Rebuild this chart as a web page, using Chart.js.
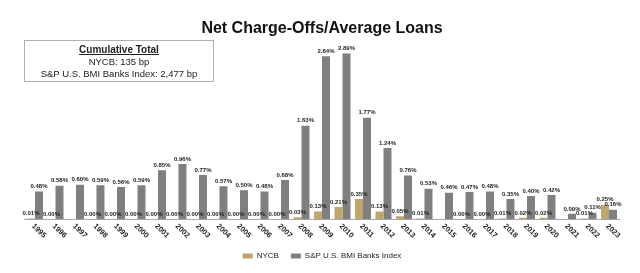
<!DOCTYPE html>
<html>
<head>
<meta charset="utf-8">
<script src="https://cdn.jsdelivr.net/npm/chart.js@4.4.1/dist/chart.umd.min.js"></script>
<style>
  html, body { margin: 0; padding: 0; background: #fff; }
  #wrap { position: relative; width: 640px; height: 273px; }
  #box {
    position: absolute; left: 24px; top: 40px; width: 190px; height: 42px; box-sizing: border-box;
    border: 1px solid #b0b0b0; font-family: "Liberation Sans", Arial, sans-serif;
    font-size: 9.5px; color: #222; text-align: center; line-height: 12px; padding-top: 3px;
  }
  #box b { text-decoration: underline; font-size: 10px; }
</style>
</head>
<body>
<div id="wrap">
  <canvas id="c" width="640" height="273"></canvas>
  <div id="box"><b>Cumulative Total</b><br>NYCB: 135 bp<br>S&amp;P U.S. BMI Banks Index: 2,477 bp</div>
</div>
<script>
const years = ['1995','1996','1997','1998','1999','2000','2001','2002','2003','2004','2005','2006','2007','2008','2009','2010','2011','2012','2013','2014','2015','2016','2017','2018','2019','2020','2021','2022','2023'];
const nycb = [0.01,0.00,null,0.00,0.00,0.00,0.00,0.00,0.00,0.00,0.00,0.00,0.00,0.03,0.13,0.21,0.35,0.13,0.05,0.01,null,0.00,0.00,0.01,0.02,0.02,null,0.01,0.25];
const spIndex = [0.48,0.58,0.60,0.59,0.56,0.59,0.85,0.96,0.77,0.57,0.50,0.48,0.68,1.63,2.84,2.89,1.77,1.24,0.76,0.53,0.46,0.47,0.48,0.35,0.40,0.42,0.09,0.11,0.16];
const seriesNames = ['NYCB', 'S&P U.S. BMI Banks Index'];
const titleText = 'Net Charge-Offs/Average Loans';

const FONT = '"Liberation Sans", Arial, sans-serif';

const labelPlugin = {
  id: 'valueLabels',
  afterDatasetsDraw(chart) {
    const ctx = chart.ctx;
    ctx.save();
    ctx.font = 'bold 6px ' + FONT;
    ctx.fillStyle = '#222';
    ctx.textAlign = 'center';
    ctx.textBaseline = 'bottom';
    chart.data.datasets.forEach((ds, di) => {
      const meta = chart.getDatasetMeta(di);
      meta.data.forEach((el, i) => {
        const v = ds.data[i];
        if (v === null || v === undefined) return;
        ctx.fillText(v.toFixed(2) + '%', el.x, el.y - 2);
      });
    });
    ctx.restore();
  },
  afterDraw(chart) {
    const ctx = chart.ctx;
    const xs = chart.scales.x;
    ctx.save();
    ctx.font = 'bold 7.5px ' + FONT;
    ctx.fillStyle = '#222';
    ctx.textAlign = 'left';
    ctx.textBaseline = 'middle';
    chart.data.labels.forEach((lab, i) => {
      const x = xs.getPixelForValue(i);
      ctx.save();
      ctx.translate(x - 2, xs.top + 6);
      ctx.rotate(Math.PI / 4);
      ctx.fillText(lab, 0, 0);
      ctx.restore();
    });
    ctx.restore();
  }
};

new Chart(document.getElementById('c'), {
  type: 'bar',
  data: {
    labels: years,
    datasets: [
      { label: seriesNames[0], data: nycb, backgroundColor: '#bfa66a', categoryPercentage: 0.78, barPercentage: 1.0 },
      { label: seriesNames[1], data: spIndex, backgroundColor: '#7f7f7f', categoryPercentage: 0.78, barPercentage: 1.0 }
    ]
  },
  options: {
    responsive: false,
    animation: false,
    layout: { padding: { left: 24.75, right: 20.75, top: 0, bottom: 3 } },
    plugins: {
      title: {
        display: true, text: titleText, color: '#111',
        font: { family: FONT, size: 16, weight: 'bold' },
        padding: { top: 19, bottom: 9 }
      },
      legend: {
        position: 'bottom',
        labels: {
          boxWidth: 10, boxHeight: 5, color: '#222', padding: 12,
          font: { family: FONT, size: 8 }
        }
      },
      tooltip: { enabled: false }
    },
    scales: {
      x: {
        grid: { display: false },
        border: { display: true, color: '#a8a8a8', width: 1 },
        ticks: { display: false },
        afterFit(scale) { scale.height = 21; }
      },
      y: {
        display: false,
        min: 0, max: 3.0
      }
    }
  },
  plugins: [labelPlugin]
});
</script>
</body>
</html>
